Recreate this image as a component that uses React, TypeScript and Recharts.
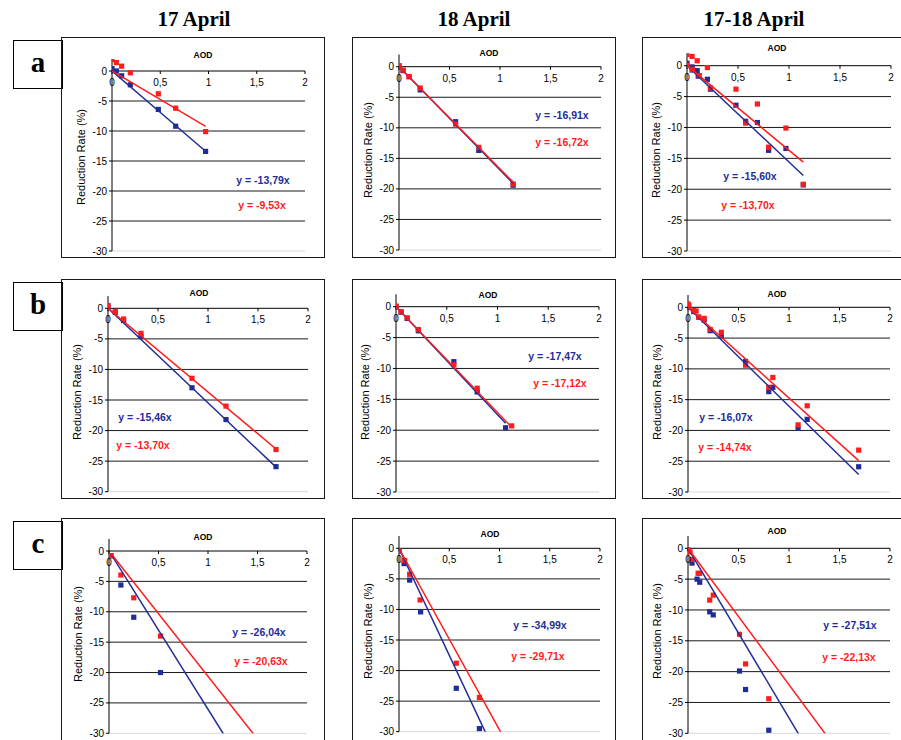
import React from 'react';
import { ScatterChart, Scatter, XAxis, YAxis, ReferenceLine } from 'recharts';

type P = [number, number];

const columnTitles = ['17 April', '18 April', '17-18 April'];
const rowLetters = ['a', 'b', 'c'];
const xTickValues = [0, 0.5, 1, 1.5, 2];
const xTickLabels = ['0', '0,5', '1', '1,5', '2'];
const yTickValues = [0, -5, -10, -15, -20, -25, -30];
const gridValues = [-5, -10, -15, -20, -25];
const xAxisTitle = 'AOD';
const yAxisTitle = 'Reduction Rate (%)';

// ---- row a ----
const a17Blue: P[] = [[0, 0.4], [0.045, 0], [0.1, -0.8], [0.19, -2.3], [0.48, -6.4], [0.66, -9.2], [0.97, -13.4]];
const a17Red: P[] = [[0, 1.9], [0.045, 1.4], [0.1, 0.8], [0.19, -0.3], [0.48, -3.8], [0.66, -6.2], [0.97, -10.1]];
const a18Blue: P[] = [[0, 0.1], [0.04, -0.65], [0.1, -1.65], [0.21, -3.8], [0.56, -9.0], [0.79, -13.7], [1.13, -19.4]];
const a18Red: P[] = [[0, 0.15], [0.04, -0.55], [0.1, -1.6], [0.21, -3.5], [0.56, -9.4], [0.79, -13.2], [1.13, -19.2]];
const aAllBlue: P[] = [[0, 0.4], [0.05, -0.2], [0.05, -0.7], [0.1, -0.8], [0.11, -1.7], [0.2, -2.2], [0.23, -3.8], [0.48, -6.4], [0.575, -9.0], [0.69, -9.2], [0.8, -13.7], [0.97, -13.4], [1.14, -19.3]];
const aAllRed: P[] = [[0, 1.8], [0, 0.1], [0.05, 1.5], [0.055, -0.6], [0.1, 0.8], [0.12, -1.6], [0.2, -0.3], [0.23, -3.6], [0.48, -3.8], [0.575, -9.3], [0.69, -6.2], [0.8, -13.2], [0.97, -10.1], [1.14, -19.2]];

// ---- row b ----
const b17Blue: P[] = [[0, 0.27], [0.073, -0.65], [0.156, -2.0], [0.33, -4.6], [0.84, -13.0], [1.18, -18.2], [1.68, -25.9]];
const b17Red: P[] = [[0, 0.45], [0.073, -0.55], [0.156, -1.75], [0.33, -4.1], [0.84, -11.45], [1.18, -16.0], [1.68, -23.1]];
const b18Blue: P[] = [[0, 0], [0.05, -0.9], [0.11, -1.9], [0.22, -3.9], [0.57, -8.9], [0.8, -13.8], [1.08, -19.6]];
const b18Red: P[] = [[0, 0.1], [0.05, -0.8], [0.11, -1.8], [0.22, -3.7], [0.57, -9.4], [0.8, -13.2], [1.14, -19.3]];
const bAllBlue: P[] = [[0, 0], [0.056, -0.7], [0.105, -1.6], [0.16, -2.06], [0.22, -3.8], [0.33, -4.65], [0.57, -8.8], [0.8, -13.7], [0.84, -13.0], [1.09, -19.65], [1.18, -18.2], [1.69, -25.9]];
const bAllRed: P[] = [[0, 0.55], [0.01, 0.3], [0.056, -0.54], [0.08, -0.6], [0.105, -1.6], [0.16, -1.8], [0.22, -3.6], [0.33, -4.06], [0.57, -9.4], [0.8, -13.0], [0.84, -11.4], [1.09, -19.1], [1.18, -16.0], [1.69, -23.2]];

// ---- row c ----
const c17Blue: P[] = [[0.02, -0.77], [0.12, -5.6], [0.25, -10.9], [0.52, -20.0]];
const c17Red: P[] = [[0.02, -0.77], [0.12, -3.95], [0.25, -7.7], [0.52, -14.0]];
const c18Blue: P[] = [[0, -0.44], [0.05, -2.5], [0.106, -5.2], [0.215, -10.4], [0.57, -22.9], [0.8, -29.5]];
const c18Red: P[] = [[0, -0.44], [0.056, -2.0], [0.106, -4.25], [0.21, -8.45], [0.57, -18.8], [0.8, -24.4]];
const cAllBlue: P[] = [[0, -0.3], [0.04, -2.4], [0.09, -5.0], [0.116, -5.5], [0.215, -10.3], [0.25, -10.8], [0.51, -19.9], [0.57, -22.9], [0.8, -29.5]];
const cAllRed: P[] = [[0, -0.3], [0.02, -0.6], [0.04, -1.8], [0.1, -4.05], [0.116, -4.05], [0.215, -8.4], [0.25, -7.6], [0.51, -13.95], [0.57, -18.75], [0.8, -24.4]];

// trend slopes (blue, red) and the AOD span of each trend line
const blueSlopes = [-13.79, -16.91, -15.60, -15.46, -17.47, -16.07, -26.04, -34.99, -27.51];
const redSlopes = [-9.53, -16.72, -13.70, -13.70, -17.12, -14.74, -20.63, -29.71, -22.13];
const blueTrendSpan: P[] = [[0, 0.97], [0, 1.13], [0, 1.14], [0, 1.68], [0, 1.08], [0, 1.69], [0.02, 1.4], [0, 1.0], [0, 1.3]];
const redTrendSpan: P[] = [[0, 0.97], [0, 1.13], [0, 1.14], [0, 1.68], [0, 1.14], [0, 1.69], [0.02, 1.7], [0, 1.2], [0, 1.6]];

const blueSets = [a17Blue, a18Blue, aAllBlue, b17Blue, b18Blue, bAllBlue, c17Blue, c18Blue, cAllBlue];
const redSets = [a17Red, a18Red, aAllRed, b17Red, b18Red, bAllRed, c17Red, c18Red, cAllRed];

// ---- layout (pixels) ----
const PAGE_W = 901;
const PAGE_H = 740;
const Y_AXIS_W = 36;
const BLUE = '#1f2d96';
const RED = '#ff1c1c';

type Layout = {
  box: [number, number, number, number];
  x0: number; x2: number; y0: number; y30: number;
  aod: [number, number]; labelY: number; eqB: [number, number]; eqR: [number, number];
};

const layouts: Layout[] = [
  { box: [61, 37, 264, 221], x0: 112, x2: 305, y0: 71, y30: 251, aod: [203, 55], labelY: 157, eqB: [263, 180], eqR: [262, 205] },
  { box: [352, 37, 264, 221], x0: 399, x2: 601, y0: 66.7, y30: 250, aod: [489, 53], labelY: 150, eqB: [562, 115], eqR: [562, 142] },
  { box: [642, 37, 270, 221], x0: 687, x2: 891, y0: 65.7, y30: 251, aod: [777, 48], labelY: 150, eqB: [750, 176], eqR: [748, 205] },
  { box: [61, 279, 264, 220], x0: 108, x2: 308, y0: 308.3, y30: 491.7, aod: [199, 293], labelY: 392, eqB: [145, 417], eqR: [143, 445] },
  { box: [352, 279, 264, 220], x0: 396, x2: 599, y0: 306.7, y30: 492, aod: [488, 295], labelY: 392, eqB: [555, 356], eqR: [560, 383] },
  { box: [642, 279, 270, 220], x0: 688, x2: 890, y0: 307.3, y30: 492, aod: [777, 294], labelY: 392, eqB: [726, 417], eqR: [725, 447] },
  { box: [61, 518, 264, 240], x0: 109, x2: 307, y0: 551, y30: 733.3, aod: [203, 537], labelY: 634, eqB: [259, 632], eqR: [261, 661] },
  { box: [352, 518, 264, 240], x0: 399, x2: 600, y0: 548.3, y30: 731.7, aod: [490, 534], labelY: 631, eqB: [540, 625], eqR: [538, 656] },
  { box: [642, 518, 270, 240], x0: 688, x2: 890, y0: 548.3, y30: 733.3, aod: [777, 531], labelY: 631, eqB: [850, 625], eqR: [849, 657] },
];

const titleCenters = [194, 474, 754];
const letterTops = [40, 282, 521];

const toPts = (arr: P[]) => arr.map(([x, y]) => ({ x, y }));
const trend = (slope: number, span: P) => [
  { x: span[0], y: slope * span[0] },
  { x: span[1], y: slope * span[1] },
];
const fmtEq = (s: number) => `y = ${s.toFixed(2).replace('.', ',')}x`;

const square = (color: string) => (props: any) => {
  const { cx, cy } = props;
  if (cx == null || cy == null) return <g />;
  return <rect x={cx - 2.6} y={cy - 2.6} width={5.2} height={5.2} fill={color} />;
};
const noShape = () => <g />;

const Panel = ({ i }: { i: number }) => {
  const L = layouts[i];
  const [bl, bt, bw, bh] = L.box;
  const width = Math.min(bw, PAGE_W - bl);
  const height = Math.min(bh, PAGE_H - bt);
  const scale = (L.y30 - L.y0) / 30;
  const plotTop = L.y0 - 2 * scale;
  const chartBottom = bt + height;
  const plotBottom = Math.min(L.y30, chartBottom) === L.y30 && L.y30 < chartBottom - 3 ? L.y30 : chartBottom;
  const yMin = -30 - (plotBottom - L.y30) / scale;
  const margin = {
    top: plotTop - bt,
    bottom: chartBottom - plotBottom,
    left: L.x0 - bl - Y_AXIS_W,
    right: bl + width - L.x2,
  };
  const text: React.CSSProperties = { position: 'absolute', whiteSpace: 'nowrap', transform: 'translate(-50%, -50%)' };
  return (
    <>
      <div style={{ position: 'absolute', left: bl, top: bt, width: bw, height: bh, border: '1.5px solid #1a1a1a', boxSizing: 'border-box' }} />
      <div style={{ position: 'absolute', left: bl, top: bt }}>
        <ScatterChart width={width} height={height} margin={margin}>
          <XAxis type="number" dataKey="x" domain={[0, 2]} allowDataOverflow hide />
          <YAxis
            type="number"
            dataKey="y"
            domain={[yMin, 2]}
            ticks={yTickValues}
            interval={0}
            allowDataOverflow
            width={Y_AXIS_W}
            tickSize={3}
            tickMargin={2}
            axisLine={{ stroke: '#000' }}
            tickLine={{ stroke: '#000' }}
            tick={{ fontSize: 10, fill: '#000' }}
          />
          <ReferenceLine y={-30} stroke="#d8d8d8" strokeWidth={1} />
          {gridValues.map((v) => (
            <ReferenceLine key={v} y={v} stroke="#1a1a1a" strokeWidth={1} />
          ))}
          <ReferenceLine y={0} stroke="#000" strokeWidth={1} />
          {xTickValues.map((v, k) => (
            <ReferenceLine
              key={'t' + v}
              segment={[{ x: v, y: 0 }, { x: v, y: -0.5 }]}
              stroke="#000"
              label={{ value: xTickLabels[k], position: 'bottom', offset: 5, fontSize: 10, fill: '#000' }}
            />
          ))}
          <Scatter data={toPts(blueSets[i])} fill={BLUE} shape={square(BLUE)} isAnimationActive={false} />
          <Scatter data={toPts(redSets[i])} fill={RED} shape={square(RED)} isAnimationActive={false} />
          <Scatter data={trend(blueSlopes[i], blueTrendSpan[i])} line={{ stroke: BLUE, strokeWidth: 1.5 }} shape={noShape} isAnimationActive={false} />
          <Scatter data={trend(redSlopes[i], redTrendSpan[i])} line={{ stroke: RED, strokeWidth: 1.5 }} shape={noShape} isAnimationActive={false} />
        </ScatterChart>
      </div>
      <div style={{ ...text, left: L.aod[0], top: L.aod[1], fontSize: 8.5, fontWeight: 700 }}>{xAxisTitle}</div>
      <div style={{ ...text, left: L.x0 - 31, top: L.labelY, fontSize: 11, transform: 'translate(-50%, -50%) rotate(-90deg)' }}>{yAxisTitle}</div>
      <div style={{ ...text, left: L.eqB[0], top: L.eqB[1], fontSize: 10.5, fontWeight: 700, color: BLUE }}>{fmtEq(blueSlopes[i])}</div>
      <div style={{ ...text, left: L.eqR[0], top: L.eqR[1], fontSize: 10.5, fontWeight: 700, color: RED }}>{fmtEq(redSlopes[i])}</div>
    </>
  );
};

export default function App() {
  return (
    <div
      style={{
        position: 'absolute',
        left: 0,
        top: 0,
        width: PAGE_W,
        height: PAGE_H,
        overflow: 'hidden',
        background: '#fff',
        fontFamily: '"Liberation Sans", Arial, sans-serif',
      }}
    >
      {columnTitles.map((t, k) => (
        <div
          key={t}
          style={{
            position: 'absolute',
            left: titleCenters[k] - 100,
            width: 200,
            top: 8,
            lineHeight: '22px',
            textAlign: 'center',
            fontFamily: '"Liberation Serif", "Times New Roman", serif',
            fontWeight: 700,
            fontSize: 21,
          }}
        >
          {t}
        </div>
      ))}
      {rowLetters.map((l, k) => (
        <div
          key={l}
          style={{
            position: 'absolute',
            left: 13,
            top: letterTops[k],
            width: 50,
            height: 49,
            border: '1.5px solid #000',
            boxSizing: 'border-box',
            background: '#fff',
          }}
        >
          <div
            style={{
              position: 'absolute',
              left: 0,
              width: '100%',
              top: 7,
              lineHeight: '28px',
              textAlign: 'center',
              fontFamily: '"Liberation Serif", "Times New Roman", serif',
              fontWeight: 700,
              fontSize: 29,
            }}
          >
            {l}
          </div>
        </div>
      ))}
      {layouts.map((_, i) => (
        <Panel key={i} i={i} />
      ))}
    </div>
  );
}
